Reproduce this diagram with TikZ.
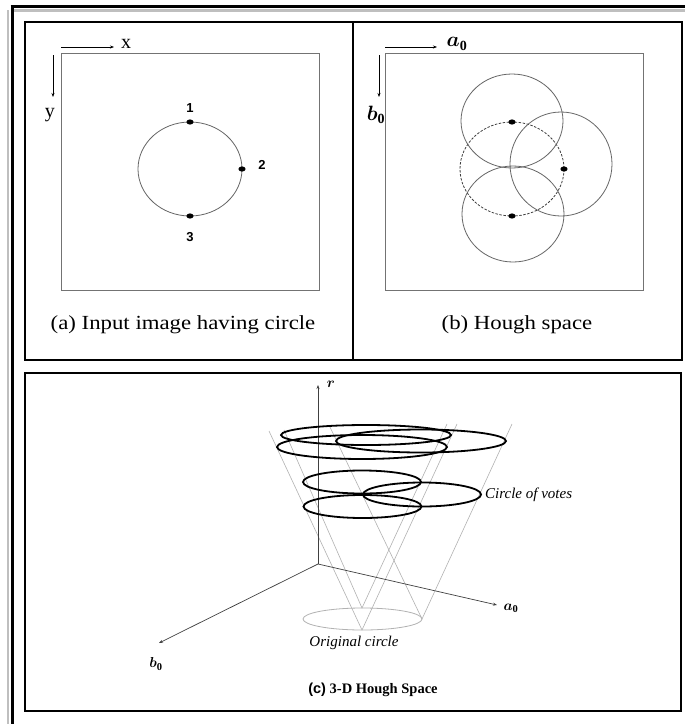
\documentclass[tikz,border=0pt]{standalone}
\usepackage{fontspec}
\setmainfont{Liberation Serif}
\newfontfamily\sansf{Liberation Sans}
\usepackage{amsmath,bm}
\usetikzlibrary{arrows.meta}
\begin{document}
\begin{tikzpicture}[x=1pt,y=-1pt,
  panel/.style={draw=black,line width=1.5pt},
  innerbox/.style={draw=black!55,line width=1pt},
  circ/.style={draw=black!60,line width=0.8pt},
  dashcirc/.style={draw=black!75,line width=0.8pt,dash pattern=on 2.5pt off 1.5pt},
  dotmark/.style={fill=black},
  arr/.style={draw=black,line width=0.6pt,-{Stealth[length=4pt,width=3pt]}},
  axis/.style={draw=black!75,line width=0.7pt,-{Stealth[length=4pt,width=3pt]}},
  cone/.style={draw=black!30,line width=0.6pt},
  vote/.style={draw=black,line width=1.8pt},
  captext/.style={font=\fontsize{20}{22}\selectfont,inner sep=0pt,xscale=1.14},
  num/.style={font=\sansf\bfseries\fontsize{13}{15}\selectfont,inner sep=0pt},
  axlbl/.style={font=\fontsize{20}{22}\selectfont,inner sep=0pt},
  smalllbl/.style={font=\fontsize{12}{14}\selectfont,inner sep=0pt}]
\useasboundingbox (0,0) rectangle (685,724);
\fill[white] (0,0) rectangle (685,724);
% outer frame with shadow
\draw[black!25,line width=2.5pt] (8,10) -- (8,724);
\draw[black!25,line width=2.5pt] (14,10.5) -- (685,10.5);
\draw[black,line width=2.6pt] (10.5,6.5) -- (685,6.5);
\draw[black,line width=3pt] (12,5.2) -- (12,724);
% panels
\draw[panel] (25,22) rectangle (353,360);
\draw[panel] (353,22) rectangle (682,360);
\draw[panel] (25,373) rectangle (681,711);

% ---------- panel (a)
\draw[innerbox] (61,53) rectangle (319,290);
\coordinate (xa0) at (61,47); \coordinate (xa1) at (114,47);
\draw[arr] (xa0) -- (xa1);
\node[axlbl] (xl) at (126,44) {x};
\coordinate (ya0) at (53,55); \coordinate (ya1) at (53,97);
\draw[arr] (ya0) -- (ya1);
\node[axlbl] (yl) at (50,115) {y};
\draw[circ] (190,169) ellipse [x radius=52, y radius=47];
\fill[dotmark] (190,122) ellipse [x radius=3.6, y radius=2.6];
\fill[dotmark] (242,169) ellipse [x radius=3.6, y radius=2.6];
\fill[dotmark] (190,216) ellipse [x radius=3.6, y radius=2.6];
\node[num] (n1) at (190,108) {1};
\node[num] (n2) at (262,165) {2};
\node[num] (n3) at (190,237) {3};
\node[captext] (capa) at (183,325) {(a) Input image having circle};

% ---------- panel (b)
\draw[innerbox] (385,53) rectangle (643,290);
\coordinate (xb0) at (385,47); \coordinate (xb1) at (437,47);
\draw[arr] (xb0) -- (xb1);
\node[axlbl] (al) at (457,44) {$\bm{a}_{\mathbf{0}}$};
\coordinate (yb0) at (379,55); \coordinate (yb1) at (379,97);
\draw[arr] (yb0) -- (yb1);
\node[axlbl] (bl) at (376,115) {$\bm{b}_{\mathbf{0}}$};
\draw[dashcirc] (512,169) ellipse [x radius=52, y radius=47];
\draw[circ] (512,121) ellipse [x radius=51, y radius=47];
\draw[circ] (561,164) ellipse [x radius=51, y radius=52];
\draw[circ] (513,214) ellipse [x radius=51, y radius=48];
\fill[dotmark] (512,122) ellipse [x radius=3.6, y radius=2.6];
\fill[dotmark] (564,169) ellipse [x radius=3.6, y radius=2.6];
\fill[dotmark] (512,216) ellipse [x radius=3.6, y radius=2.6];
\node[captext] (capb) at (517,325) {(b) Hough space};

% ---------- panel (c)
\coordinate (O) at (318,564);
\coordinate (R) at (318,385);
\coordinate (A) at (497,605);
\coordinate (B) at (159,643);
% cones
\coordinate (P1) at (362,608);
\coordinate (P2) at (422,619);
\coordinate (P3) at (362,630);
\coordinate (T1l) at (284,430); \coordinate (T1r) at (447,424);
\coordinate (T2l) at (329,425); \coordinate (T2r) at (512,424);
\coordinate (T3l) at (269,431); \coordinate (T3r) at (457,424);
\draw[cone] (T1l) -- (P1) -- (T1r);
\draw[cone] (T2l) -- (P2) -- (T2r);
\draw[cone] (T3l) -- (P3) -- (T3r);
\draw[cone,line width=0.8pt] (362.5,619) ellipse [x radius=59.5, y radius=11];
% axes
\draw[axis] (O) -- (R);
\draw[axis] (O) -- (A);
\draw[axis] (O) -- (B);
\node[smalllbl,font=\fontsize{15}{17}\selectfont] (rl) at (331,384) {$\bm{r}$};
\node[smalllbl,font=\fontsize{15}{17}\selectfont] (a3) at (511,608) {$\bm{a}_{\mathbf{0}}$};
\node[smalllbl,font=\fontsize{15}{17}\selectfont] (b3) at (156,664) {$\bm{b}_{\mathbf{0}}$};
% circles of votes
\draw[vote] (366,435) ellipse [x radius=85, y radius=10];
\draw[vote] (362,447) ellipse [x radius=85, y radius=12];
\draw[vote] (421,441) ellipse [x radius=85, y radius=11.5];
\draw[vote] (362,482) ellipse [x radius=59, y radius=11.5];
\draw[vote] (422,494.5) ellipse [x radius=59, y radius=12];
\draw[vote] (362.5,506.5) ellipse [x radius=59, y radius=11.5];
\node[smalllbl,anchor=west,font=\itshape\fontsize{15}{17}\selectfont] (cv) at (485,495) {Circle of votes};
\node[smalllbl,font=\itshape\fontsize{15}{17}\selectfont] (oc) at (354,643) {Original circle};
\node[smalllbl,font=\fontsize{14.5}{16}\selectfont] (capc) at (373,690) {{\sansf\bfseries (c)} \textbf{3-D Hough Space}};
\end{tikzpicture}
\end{document}
